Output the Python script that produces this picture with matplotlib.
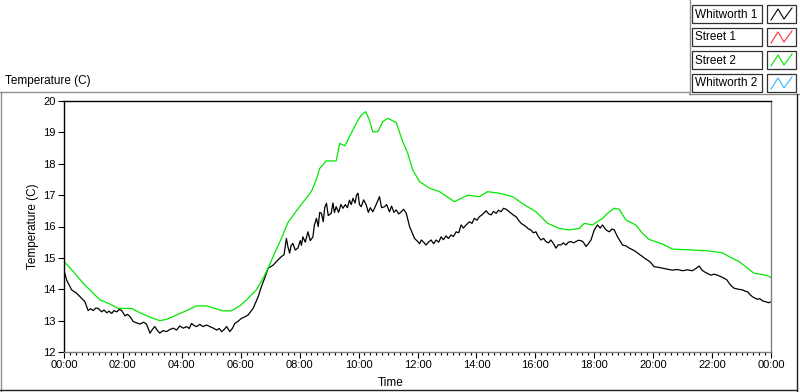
import numpy as np
import matplotlib
matplotlib.use('Agg')
import matplotlib.pyplot as plt
from matplotlib.ticker import MultipleLocator, FuncFormatter
from matplotlib.patches import Rectangle
from matplotlib.lines import Line2D

plt.rcParams['font.family'] = ['Liberation Sans', 'DejaVu Sans']

# Time in hours since midnight, temperature in degrees C
whitworth1_t = [0.0, 0.09, 0.26, 0.43, 0.60, 0.71, 0.82, 0.90, 0.99, 1.08, 1.16, 1.28, 1.36,
                1.45, 1.53, 1.62, 1.70, 1.79, 1.88, 1.96, 2.07, 2.15, 2.24, 2.35, 2.46, 2.58,
                2.70, 2.80, 2.92, 3.00, 3.08, 3.16, 3.25, 3.36, 3.48, 3.60, 3.71, 3.82, 3.93,
                4.05, 4.16, 4.25, 4.33, 4.42, 4.50, 4.61, 4.72, 4.84, 4.95, 5.07, 5.18, 5.27,
                5.35, 5.44, 5.52, 5.58, 5.63, 5.72, 5.80, 5.91, 6.02, 6.14, 6.25, 6.42, 6.59,
                6.70, 6.81, 6.93, 7.02, 7.10, 7.18, 7.26, 7.38, 7.47, 7.55, 7.60, 7.66, 7.71,
                7.77, 7.85, 7.94, 8.02, 8.06, 8.11, 8.19, 8.28, 8.36, 8.45, 8.50, 8.57, 8.63,
                8.68, 8.74, 8.80, 8.85, 8.91, 8.97, 9.07, 9.13, 9.18, 9.24, 9.32, 9.40, 9.47,
                9.55, 9.62, 9.69, 9.75, 9.81, 9.88, 9.93, 9.98, 10.03, 10.09, 10.17, 10.26,
                10.33, 10.40, 10.48, 10.55, 10.62, 10.71, 10.78, 10.88, 10.95, 11.05, 11.12,
                11.20, 11.28, 11.36, 11.45, 11.53, 11.62, 11.73, 11.90, 12.01, 12.07, 12.13,
                12.21, 12.29, 12.37, 12.46, 12.55, 12.63, 12.72, 12.80, 12.88, 12.97, 13.05,
                13.14, 13.22, 13.31, 13.40, 13.48, 13.56, 13.65, 13.76, 13.85, 13.93, 14.02,
                14.10, 14.20, 14.33, 14.42, 14.50, 14.58, 14.67, 14.75, 14.84, 14.92, 15.01,
                15.10, 15.18, 15.26, 15.35, 15.43, 15.52, 15.60, 15.68, 15.77, 15.85, 15.93,
                16.02, 16.10, 16.19, 16.28, 16.36, 16.45, 16.53, 16.62, 16.70, 16.78, 16.87,
                16.95, 17.04, 17.12, 17.21, 17.30, 17.38, 17.46, 17.55, 17.63, 17.72, 17.80,
                17.89, 18.00, 18.11, 18.20, 18.28, 18.40, 18.51, 18.60, 18.68, 18.79, 18.96,
                19.08, 19.19, 19.30, 19.41, 19.52, 19.64, 19.72, 19.81, 19.92, 20.03, 20.17,
                20.32, 20.48, 20.65, 20.82, 21.00, 21.16, 21.33, 21.45, 21.56, 21.65, 21.73,
                21.85, 21.96, 22.07, 22.18, 22.30, 22.41, 22.50, 22.58, 22.66, 22.75, 22.90,
                23.03, 23.12, 23.20, 23.28, 23.37, 23.45, 23.54, 23.62, 23.71, 23.82, 23.93,
                24.0]
whitworth1_v = [14.60, 14.29, 13.98, 13.87, 13.71, 13.60, 13.32, 13.38, 13.32, 13.40, 13.39, 13.28, 13.34,
                13.25, 13.30, 13.23, 13.32, 13.28, 13.36, 13.32, 13.15, 13.20, 13.13, 12.97, 12.93, 12.89,
                12.95, 12.89, 12.60, 12.72, 12.81, 12.70, 12.60, 12.68, 12.65, 12.72, 12.76, 12.70, 12.83,
                12.76, 12.81, 12.75, 12.91, 12.84, 12.81, 12.88, 12.81, 12.86, 12.81, 12.76, 12.70, 12.75,
                12.65, 12.72, 12.81, 12.72, 12.65, 12.76, 12.91, 12.98, 13.07, 13.12, 13.18, 13.39, 13.76,
                14.08, 14.35, 14.67, 14.72, 14.77, 14.85, 14.93, 15.04, 15.10, 15.62, 15.36, 15.15, 15.40,
                15.46, 15.25, 15.31, 15.55, 15.40, 15.67, 15.50, 15.83, 15.55, 15.67, 16.05, 16.26, 16.00,
                16.45, 16.42, 16.15, 16.60, 16.74, 16.35, 16.42, 16.75, 16.45, 16.63, 16.45, 16.70, 16.58,
                16.70, 16.60, 16.84, 16.70, 16.90, 16.75, 17.00, 17.06, 16.70, 16.63, 16.85, 16.69,
                16.45, 16.60, 16.47, 16.60, 16.75, 16.95, 16.60, 16.63, 16.70, 16.47, 16.65,
                16.45, 16.53, 16.40, 16.47, 16.55, 16.42, 16.00, 15.62, 15.52, 15.45, 15.57,
                15.50, 15.41, 15.50, 15.57, 15.45, 15.57, 15.50, 15.67, 15.58, 15.70, 15.62,
                15.73, 15.68, 15.83, 15.80, 16.05, 15.95, 16.05, 16.15, 16.10, 16.26, 16.20,
                16.31, 16.38, 16.50, 16.40, 16.37, 16.48, 16.42, 16.52, 16.47, 16.58, 16.55,
                16.48, 16.42, 16.36, 16.31, 16.20, 16.10, 16.05, 16.00, 15.92, 15.89, 15.80,
                15.83, 15.68, 15.57, 15.62, 15.52, 15.48, 15.57, 15.45, 15.31, 15.42, 15.41,
                15.48, 15.41, 15.50, 15.52, 15.48, 15.52, 15.56, 15.55, 15.50, 15.36, 15.45,
                15.57, 15.89, 16.05, 15.95, 16.05, 15.89, 15.83, 15.92, 15.89, 15.67, 15.41,
                15.38, 15.31, 15.26, 15.20, 15.12, 15.04, 14.98, 14.93, 14.85, 14.72, 14.70,
                14.67, 14.64, 14.61, 14.63, 14.59, 14.62, 14.59, 14.66, 14.74, 14.62, 14.56,
                14.50, 14.45, 14.48, 14.45, 14.40, 14.35, 14.30, 14.19, 14.10, 14.03, 14.00,
                13.98, 13.94, 13.92, 13.84, 13.76, 13.72, 13.68, 13.70, 13.63, 13.60, 13.57,
                13.60]

street2_t = [0.0, 0.32, 0.65, 0.94, 1.22, 1.56, 1.84, 2.29, 2.58, 2.92, 3.25, 3.48, 3.82,
             4.16, 4.50, 4.84, 5.12, 5.40, 5.68, 5.97, 6.25, 6.53, 6.76, 6.93, 7.15, 7.38,
             7.60, 7.89, 8.17, 8.40, 8.56, 8.68, 8.90, 9.24, 9.36, 9.53, 9.69, 9.92, 10.09,
             10.24, 10.37, 10.48, 10.65, 10.82, 10.99, 11.28, 11.50, 11.67, 11.84, 12.07,
             12.41, 12.75, 13.25, 13.71, 14.10, 14.38, 14.78, 15.23, 15.63, 16.02, 16.42,
             16.81, 17.15, 17.49, 17.66, 17.94, 18.28, 18.51, 18.68, 18.85, 19.07, 19.41,
             19.64, 19.86, 20.32, 20.65, 21.33, 21.90, 22.35, 22.58, 22.92, 23.14, 23.42,
             23.82, 24.0]
street2_v = [14.88, 14.56, 14.19, 13.92, 13.66, 13.53, 13.39, 13.39, 13.25, 13.11, 13.00, 13.04, 13.18,
             13.32, 13.47, 13.47, 13.39, 13.31, 13.31, 13.47, 13.71, 13.98, 14.35, 14.67, 15.15, 15.62,
             16.12, 16.50, 16.84, 17.12, 17.48, 17.85, 18.09, 18.09, 18.65, 18.57, 18.86, 19.29, 19.55,
             19.66, 19.39, 19.02, 19.02, 19.34, 19.45, 19.31, 18.70, 18.33, 17.80, 17.43,
             17.22, 17.11, 16.79, 17.00, 16.95, 17.11, 17.06, 16.95, 16.69, 16.47, 16.10,
             15.94, 15.89, 15.94, 16.10, 16.05, 16.26, 16.47, 16.58, 16.55, 16.21, 16.05,
             15.78, 15.59, 15.44, 15.28, 15.25, 15.22, 15.16, 15.04, 14.88, 14.72, 14.51,
             14.45, 14.38]

# Street 1 and Whitworth 2 hold no data in this view
street1_t, street1_v = [], []
whitworth2_t, whitworth2_v = [], []

series_names = ['Whitworth 1', 'Street 1', 'Street 2', 'Whitworth 2']
series_colors = ['#000000', '#ff3030', '#00e800', '#33b5ff']

W, H = 800, 392
fig = plt.figure(figsize=(W / 100, H / 100), dpi=100)
fig.patch.set_facecolor('white')

ax = fig.add_axes([64 / W, 1 - 352 / H, (771 - 64) / W, (352 - 101) / H])
ax.plot(whitworth1_t, whitworth1_v, color=series_colors[0], linewidth=0.9)
ax.plot(street1_t, street1_v, color=series_colors[1], linewidth=0.9)
ax.plot(street2_t, street2_v, color=series_colors[2], linewidth=0.9)
ax.plot(whitworth2_t, whitworth2_v, color=series_colors[3], linewidth=0.9)

ax.set_xlim(0, 24)
ax.set_ylim(12, 20)
ax.xaxis.set_major_locator(MultipleLocator(2))
ax.xaxis.set_minor_locator(MultipleLocator(0.2))
ax.yaxis.set_major_locator(MultipleLocator(1))
ax.xaxis.set_major_formatter(FuncFormatter(lambda v, p: '%02d:00' % (int(round(v)) % 24)))
ax.tick_params(axis='both', which='major', direction='out', length=4, width=0.8,
               labelsize=8, pad=2)
ax.tick_params(axis='x', which='minor', direction='out', length=2.5, width=0.8)

for side in ['top', 'left']:
    ax.spines[side].set_color('black')
for side in ['right', 'bottom']:
    ax.spines[side].set_color('#808080')
for s in ax.spines.values():
    s.set_linewidth(1.0)

ax.set_ylabel('Temperature (C)', fontsize=8.5)
ax.yaxis.set_label_coords((39 - 64) / (771 - 64), 0.5)
ax.set_xlabel('Time', fontsize=8.5)
ax.xaxis.set_label_coords((391 - 64) / (771 - 64), (352 - 377) / (352 - 101))

# panel frame around the chart
def px_line(x0, y0, x1, y1, color, lw=1.0):
    fig.add_artist(Line2D([x0 / W, x1 / W], [1 - y0 / H, 1 - y1 / H],
                          color=color, linewidth=lw, transform=fig.transFigure))

px_line(0, 92, 689, 92, '#909090')
px_line(689.5, 0, 689.5, 94, '#909090')
px_line(689, 94, 800, 94, '#909090')
px_line(1, 92, 1, 391, '#909090')
px_line(0, 390, 797, 390, '#202020')
px_line(797, 94, 797, 391, '#202020')

fig.text(5 / W, 1 - 81 / H, 'Temperature (C)', fontsize=8.5, va='center', ha='left')

# legend boxes
box_tops = [5, 28, 51, 74]
for name, color, top in zip(series_names, series_colors, box_tops):
    fig.add_artist(Rectangle((692 / W, 1 - (top + 18) / H), 70 / W, 18 / H,
                             facecolor='white', edgecolor='#303030', linewidth=0.9,
                             transform=fig.transFigure))
    fig.text(695 / W, 1 - (top + 9.5) / H, name, fontsize=8.5, va='center', ha='left')
    fig.add_artist(Rectangle((767 / W, 1 - (top + 18) / H), 29 / W, 18 / H,
                             facecolor='white', edgecolor='#303030', linewidth=0.9,
                             transform=fig.transFigure))
    zx = [771, 778, 784, 792]
    zy = [top + 15, top + 4, top + 14, top + 3]
    fig.add_artist(Line2D([x / W for x in zx], [1 - y / H for y in zy], color=color,
                          linewidth=0.8, transform=fig.transFigure))

fig.savefig('out.png', dpi=100)
